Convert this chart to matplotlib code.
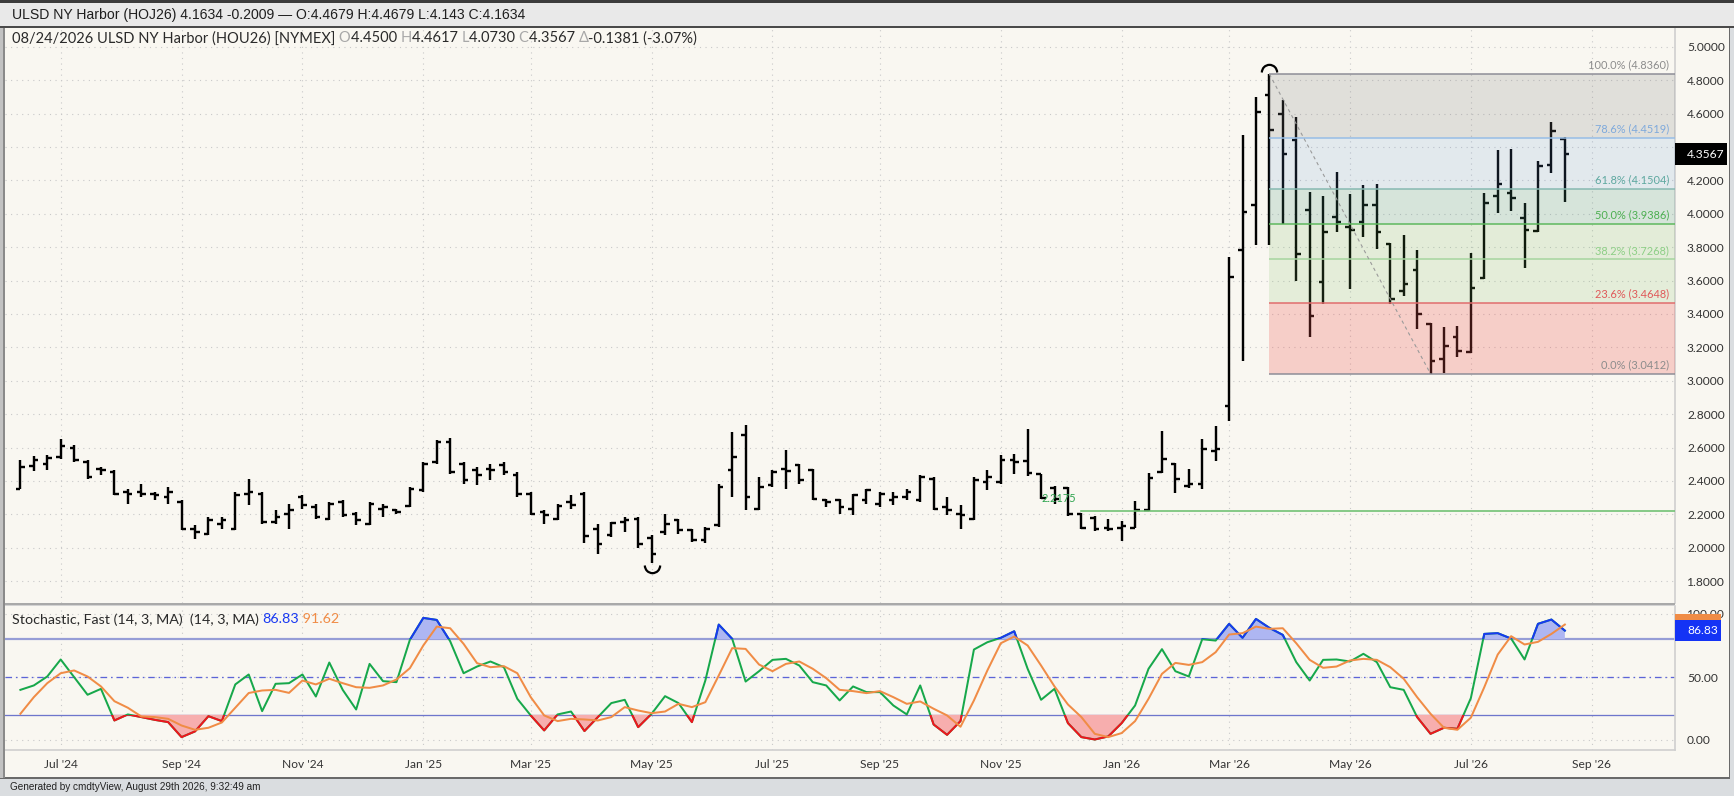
import numpy as np
import pandas as pd
import matplotlib
matplotlib.use('Agg')
import matplotlib.pyplot as plt
import matplotlib.transforms as mtransforms
from matplotlib.path import Path
from matplotlib.patches import Rectangle

# ---------------- data ----------------
week_start = '2024-06-10'   # first weekly bar (Mondays)

bar_open = [2.354, 2.488, 2.504, 2.544, 2.600, 2.514, 2.474, 2.454, 2.334, 2.334,
            2.320, 2.304, 2.274, 2.114, 2.084, 2.144, 2.114, 2.324, 2.324, 2.154,
            2.204, 2.304, 2.244, 2.174, 2.274, 2.204, 2.144, 2.234, 2.224, 2.248,
            2.344, 2.514, 2.634, 2.504, 2.464, 2.474, 2.494, 2.434, 2.324, 2.214,
            2.174, 2.274, 2.320, 2.110, 2.074, 2.154, 2.174, 2.060, 2.094, 2.164,
            2.104, 2.044, 2.134, 2.464, 2.674, 2.234, 2.374, 2.470, 2.494, 2.464,
            2.284, 2.284, 2.234, 2.284, 2.264, 2.284, 2.304, 2.284, 2.414, 2.244,
            2.204, 2.174, 2.394, 2.394, 2.524, 2.520, 2.440, 2.360, 2.360, 2.200,
            2.180, 2.120, 2.120, 2.120, 2.224, 2.456, 2.500, 2.370, 2.380, 2.580,
            2.850, 3.780, 4.050, 4.710, 4.600, 4.440, 4.020, 3.590, 3.980, 3.920,
            3.950, 4.050, 3.820, 3.540, 3.660, 3.340, 3.130, 3.260, 3.174, 3.613,
            4.106, 4.122, 3.976, 3.898, 4.291, 4.4500]
bar_high = [2.524, 2.548, 2.554, 2.650, 2.614, 2.524, 2.484, 2.464, 2.354, 2.384,
            2.334, 2.364, 2.284, 2.134, 2.184, 2.184, 2.334, 2.414, 2.334, 2.224,
            2.264, 2.314, 2.264, 2.274, 2.284, 2.214, 2.274, 2.264, 2.234, 2.364,
            2.514, 2.644, 2.654, 2.514, 2.484, 2.504, 2.514, 2.454, 2.334, 2.224,
            2.264, 2.314, 2.334, 2.144, 2.154, 2.184, 2.184, 2.074, 2.204, 2.174,
            2.114, 2.124, 2.384, 2.694, 2.734, 2.424, 2.464, 2.584, 2.504, 2.474,
            2.294, 2.294, 2.324, 2.354, 2.334, 2.334, 2.354, 2.434, 2.424, 2.304,
            2.254, 2.424, 2.464, 2.554, 2.564, 2.710, 2.444, 2.370, 2.364, 2.210,
            2.190, 2.170, 2.160, 2.280, 2.450, 2.700, 2.510, 2.470, 2.650, 2.730,
            3.740, 4.470, 4.700, 4.836, 4.680, 4.580, 4.130, 4.106, 4.250, 4.120,
            4.170, 4.180, 3.824, 3.870, 3.784, 3.344, 3.320, 3.330, 3.766, 4.122,
            4.381, 4.387, 4.062, 4.315, 4.551, 4.4617]
bar_low = [2.350, 2.460, 2.468, 2.534, 2.514, 2.414, 2.434, 2.314, 2.264, 2.304,
           2.284, 2.264, 2.104, 2.054, 2.074, 2.114, 2.104, 2.254, 2.144, 2.144,
           2.114, 2.234, 2.174, 2.164, 2.184, 2.134, 2.134, 2.184, 2.204, 2.244,
           2.334, 2.504, 2.444, 2.384, 2.374, 2.404, 2.434, 2.304, 2.194, 2.144,
           2.164, 2.234, 2.030, 1.960, 2.064, 2.094, 2.000, 1.910, 2.074, 2.084,
           2.034, 2.028, 2.124, 2.304, 2.224, 2.224, 2.364, 2.354, 2.384, 2.284,
           2.244, 2.204, 2.194, 2.264, 2.244, 2.254, 2.284, 2.274, 2.224, 2.194,
           2.114, 2.164, 2.344, 2.384, 2.444, 2.430, 2.290, 2.260, 2.190, 2.110,
           2.100, 2.100, 2.040, 2.116, 2.220, 2.450, 2.330, 2.360, 2.350, 2.520,
           2.760, 3.120, 3.810, 3.810, 3.940, 3.600, 3.260, 3.460, 3.890, 3.550,
           3.860, 3.790, 3.460, 3.510, 3.310, 3.0412, 3.044, 3.140, 3.168, 3.607,
           4.002, 4.016, 3.673, 3.892, 4.242, 4.0730]
bar_close = [2.484, 2.528, 2.540, 2.608, 2.524, 2.424, 2.464, 2.324, 2.324, 2.324,
             2.314, 2.334, 2.114, 2.094, 2.168, 2.168, 2.314, 2.334, 2.154, 2.184,
             2.224, 2.254, 2.184, 2.264, 2.194, 2.164, 2.264, 2.244, 2.214, 2.354,
             2.504, 2.634, 2.454, 2.404, 2.434, 2.464, 2.454, 2.324, 2.204, 2.194,
             2.248, 2.254, 2.070, 2.020, 2.148, 2.164, 2.020, 1.960, 2.144, 2.104,
             2.044, 2.114, 2.364, 2.544, 2.304, 2.364, 2.454, 2.460, 2.404, 2.294,
             2.274, 2.244, 2.314, 2.344, 2.324, 2.304, 2.334, 2.424, 2.234, 2.224,
             2.194, 2.404, 2.424, 2.524, 2.514, 2.450, 2.300, 2.290, 2.200, 2.120,
             2.110, 2.110, 2.130, 2.224, 2.420, 2.530, 2.410, 2.380, 2.590, 2.590,
             3.620, 4.010, 4.610, 4.500, 4.360, 3.760, 3.390, 3.890, 3.950, 3.900,
             4.050, 3.890, 3.490, 3.580, 3.400, 3.120, 3.210, 3.180, 3.553, 4.062,
             4.178, 4.092, 3.902, 4.285, 4.497, 4.3567]

stoch_k = [39.8, 43.3, 50.4, 63.9, 49.9, 35.9, 40.6, 15.5, 20.3, 18.2,
           16.0, 14.2, 2.3, 6.8, 18.9, 15.0, 44.1, 52.0, 22.9, 44.6,
           45.1, 52.0, 34.5, 61.5, 39.8, 24.2, 60.4, 46.7, 45.9, 79.5,
           96.9, 95.3, 78.4, 53.0, 58.3, 62.3, 57.8, 32.7, 19.5, 7.6,
           20.3, 22.6, 7.1, 18.2, 29.3, 31.9, 10.2, 20.8, 34.8, 29.3,
           14.2, 47.2, 91.6, 80.3, 46.4, 54.6, 63.6, 64.4, 59.1, 45.9,
           43.3, 31.4, 42.5, 38.0, 38.0, 27.4, 20.3, 43.3, 12.3, 4.1,
           15.0, 71.8, 77.6, 81.1, 86.3, 56.5, 31.9, 40.6, 13.4, 2.3,
           0.4, 2.8, 13.4, 27.4, 56.5, 72.1, 54.6, 50.4, 80.0, 78.9,
           92.2, 81.1, 96.1, 89.0, 83.4, 61.8, 47.2, 63.6, 63.9, 62.3,
           68.4, 61.8, 41.9, 39.8, 18.2, 4.9, 9.7, 8.9, 33.2, 84.2,
           84.8, 80.5, 63.9, 92.2, 95.6, 86.83]
stoch_d = [20.8, 34.0, 45.1, 53.0, 55.2, 50.4, 42.5, 30.8, 25.6, 18.7,
           18.2, 16.8, 11.5, 8.1, 9.7, 13.9, 25.6, 37.3, 39.3, 39.8,
           37.4, 47.2, 44.1, 48.6, 45.1, 41.9, 41.4, 43.3, 48.0, 57.0,
           75.0, 90.0, 88.7, 76.3, 61.0, 57.8, 58.6, 53.0, 34.0, 19.5,
           15.0, 16.8, 16.3, 15.5, 18.2, 26.1, 23.4, 21.3, 22.6, 28.7,
           26.1, 30.0, 51.2, 72.9, 72.3, 59.9, 54.6, 60.4, 62.3, 56.5,
           49.1, 39.8, 38.8, 37.2, 38.8, 34.0, 28.7, 30.6, 24.8, 19.5,
           10.5, 31.4, 55.2, 76.8, 82.1, 75.0, 59.1, 42.5, 28.2, 18.2,
           4.9, 2.3, 5.5, 15.0, 32.7, 52.5, 61.2, 59.6, 61.8, 69.7,
           83.7, 84.8, 90.0, 88.2, 88.7, 76.8, 63.6, 57.3, 58.3, 63.1,
           64.4, 63.6, 57.8, 48.6, 34.0, 20.8, 9.7, 8.1, 17.7, 41.9,
           67.8, 82.4, 75.8, 77.9, 84.2, 91.62]

fib_high = 4.8360
fib_low = 3.0412
fib_ratios = [1.0, 0.786, 0.618, 0.5, 0.382, 0.236, 0.0]
support_level = 2.2175
price_ticks = [1.8, 2.0, 2.2, 2.4, 2.6, 2.8, 3.0, 3.2, 3.4, 3.6, 3.8, 4.0, 4.2, 4.4, 4.6, 4.8, 5.0]
stoch_ticks = [0, 50, 100]
stoch_upper, stoch_mid, stoch_lower = 80, 50, 20
tick_months = [1, 3, 5, 7, 9, 11]

header_text = "ULSD NY Harbor (HOJ26) 4.1634 -0.2009 \u2014 O:4.4679 H:4.4679 L:4.143 C:4.1634"
info_runs = [("08/24/2026 ULSD NY Harbor (HOU26) [NYMEX] ", 'dark'), ("O", 'gray'), ("4.4500 ", 'dark'),
             ("H", 'gray'), ("4.4617 ", 'dark'), ("L", 'gray'), ("4.0730 ", 'dark'),
             ("C", 'gray'), ("4.3567 ", 'dark'), ("\u0394", 'gray'), ("-0.1381 (-3.07%)", 'dark')]
stoch_title = "Stochastic, Fast (14, 3, MA)  (14, 3, MA) "
footer_text = "Generated by cmdtyView, August 29th 2026, 9:32:49 am"

# ---------------- style / layout ----------------
W, H, DPI = 1734, 796, 100
BG = '#f9f7f1'
PT = 72.0 / DPI  # points per pixel
plt.rcParams['font.family'] = ['Lato', 'DejaVu Sans']

X0_PX, STEP_PX = 20.4, 13.43       # bar 0 position and bar spacing (pixels)
PLOT_L, PLOT_R = 5, 1675
HDR_B = 28.0
MAIN_T, MAIN_B = HDR_B, 603
ST_T, ST_B = 606, 750

fig = plt.figure(figsize=(W / DPI, H / DPI), dpi=DPI)
fig.patch.set_facecolor(BG)
R = fig.canvas.get_renderer()


def frect(x0, y0, x1, y1, color, z=1):
    fig.add_artist(Rectangle((x0 / W, 1 - y1 / H), (x1 - x0) / W, (y1 - y0) / H,
                             transform=fig.transFigure, fc=color, ec='none', zorder=z))


def ax_rect(x0, y0, x1, y1):
    return [x0 / W, 1 - y1 / H, (x1 - x0) / W, (y1 - y0) / H]


n = len(bar_close)
xs = np.arange(n)
xl = (PLOT_L - X0_PX) / STEP_PX
xr = (PLOT_R - X0_PX) / STEP_PX

dates = pd.date_range(week_start, periods=n + 8, freq='W-MON')
tick_idx, tick_lab = [], []
for i in range(1, len(dates)):
    if dates[i].month in tick_months and dates[i - 1].month != dates[i].month:
        tick_idx.append(i)
        tick_lab.append(dates[i].strftime("%b '%y"))

# price scale: 5.0 at y=46.7px, 167 px per unit
p_top = 5.0 + (46.7 - MAIN_T) / 167.0
p_bot = 5.0 - (MAIN_B - 46.7) / 167.0
s_top = (740 - ST_T) / 1.26
s_bot = (740 - ST_B) / 1.26

ax = fig.add_axes(ax_rect(PLOT_L, MAIN_T, PLOT_R, MAIN_B))
axs = fig.add_axes(ax_rect(PLOT_L, ST_T, PLOT_R, ST_B))

lab_size = 12 * PT
for a in (ax, axs):
    a.set_facecolor(BG)
    for s in a.spines.values():
        s.set_visible(False)
    a.spines['right'].set_visible(True)
    a.spines['right'].set_color('#cfcfcf')
    a.spines['right'].set_linewidth(1.2)
    a.set_xlim(xl, xr)
    a.set_xticks(tick_idx)
    a.yaxis.tick_right()
    a.tick_params(axis='both', length=0, labelsize=lab_size, labelcolor='#333333')
    a.tick_params(axis='y', pad=12 * PT)
    a.grid(True, color='#c9c9c9', lw=0.8, ls=(0, (1, 4)))
    a.set_axisbelow(True)

axs.spines['bottom'].set_visible(True)
axs.spines['bottom'].set_color('#cfcfcf')
axs.spines['bottom'].set_linewidth(1.2)

ax.set_ylim(p_bot, p_top)
ax.set_yticks(price_ticks)
ax.set_yticklabels([f'{v:.4f}' for v in price_ticks])
ax.tick_params(axis='x', labelbottom=False)

axs.set_ylim(s_bot, s_top)
axs.set_yticks(stoch_ticks)
axs.set_yticklabels([f'{v:.2f}' for v in stoch_ticks])
axs.set_xticklabels(tick_lab)
axs.tick_params(axis='x', pad=9 * PT)

# ---------------- OHLC bars ----------------
bw = 2.4 * PT
tl = 4.6 / STEP_PX
ax.vlines(xs, bar_low, bar_high, color='black', lw=bw, zorder=3)
ax.hlines(bar_open, xs - tl, xs, color='black', lw=bw, zorder=3)
ax.hlines(bar_close, xs, xs + tl, color='black', lw=bw, zorder=3)

# high / low markers
i_hi = int(np.argmax(bar_high))
i_lo = int(np.argmin(bar_low))
arc_up = Path.arc(0, 180)
arc_dn = Path.arc(180, 360)
ax.plot([i_hi], [bar_high[i_hi]], marker=arc_up, ms=11, mfc='none', mec='black', mew=1.6,
        transform=mtransforms.offset_copy(ax.transData, fig=fig, x=0, y=2.5, units='dots'), zorder=4)
ax.plot([i_lo], [bar_low[i_lo]], marker=arc_dn, ms=11, mfc='none', mec='black', mew=1.6,
        transform=mtransforms.offset_copy(ax.transData, fig=fig, x=0, y=-2.5, units='dots'), zorder=4)

# ---------------- Fibonacci retracement ----------------
fib_prices = [fib_low + r * (fib_high - fib_low) for r in fib_ratios]
zone_cols = [(0.5, 0.5, 0.5, 0.2), (0.39, 0.6, 0.85, 0.15), (0.3, 0.6, 0.5, 0.2),
             (0.4, 0.7, 0.3, 0.15), (0.5, 0.75, 0.4, 0.17), (0.94, 0.33, 0.31, 0.25)]
line_cols = ['#8c8c96', '#96bde6', '#85b8b0', '#5cb85c', '#a5d59e', '#e06b6b', '#8c8c96']
text_cols = ['#8c8c8c', '#7ea9dc', '#5ea8a0', '#4caf50', '#8dcf86', '#e05858', '#8c8c8c']
i_lo2 = i_hi + int(np.argmin(bar_low[i_hi:]))
for k in range(len(fib_prices) - 1):
    ax.add_patch(Rectangle((i_hi, fib_prices[k + 1]), xr - i_hi, fib_prices[k] - fib_prices[k + 1],
                           fc=zone_cols[k], ec='none', zorder=4))
lab_tr = mtransforms.offset_copy(ax.transData, fig=fig, x=-6, y=9, units='dots')
for r, p, lc, tc in zip(fib_ratios, fib_prices, line_cols, text_cols):
    ax.plot([i_hi, xr], [p, p], color=lc, lw=1.5 * PT, zorder=5, solid_capstyle='butt')
    ax.text(xr, p, f'{r * 100:.1f}% ({p:.4f})', color=tc, fontsize=11 * PT, ha='right', va='center',
            transform=lab_tr, zorder=6)
ax.plot([i_hi, i_lo2], [fib_high, fib_low], color='#9a9a9a', lw=0.8, ls=(0, (3, 3)), zorder=5)

# support line
i_sup = 79
ax.plot([i_sup, xr], [support_level, support_level], color='#6cc070', lw=1.6 * PT, zorder=5)
ax.text(i_sup, support_level, f'{support_level:.4f}', color='#2ea44f', fontsize=11 * PT, ha='right',
        va='center', transform=mtransforms.offset_copy(ax.transData, fig=fig, x=-5, y=13, units='dots'),
        zorder=6)

# ---------------- Stochastic ----------------
k = np.array(stoch_k)
d = np.array(stoch_d)
axs.axhline(stoch_upper, color='#969dd6', lw=2.2 * PT, zorder=2)
axs.axhline(stoch_lower, color='#6e76cc', lw=1.3 * PT, zorder=2)
axs.axhline(stoch_mid, color='#5c64d8', lw=1.3 * PT, ls=(0, (5, 3, 1.2, 3)), zorder=2)
axs.fill_between(xs, k, stoch_upper, where=k >= stoch_upper, interpolate=True, color='#aeb6f2', lw=0, zorder=2.5)
axs.fill_between(xs, k, stoch_lower, where=k <= stoch_lower, interpolate=True, color='#f7aeae', lw=0, zorder=2.5)
lw_s = 2.0 * PT
axs.plot(xs, k, color='#17a84b', lw=lw_s, zorder=4)
lb, = axs.plot(xs, k, color='#1838f2', lw=lw_s, zorder=4.5)
lb.set_clip_path(Rectangle((xl - 10, stoch_upper), 300, 500, transform=axs.transData))
lr, = axs.plot(xs, k, color='#f0141e', lw=lw_s, zorder=4.5)
lr.set_clip_path(Rectangle((xl - 10, -500), 300, 500 + stoch_lower, transform=axs.transData))
axs.plot(xs, d, color='#f08c46', lw=lw_s, zorder=5)

# ---------------- frame / chrome ----------------
frect(0, 0, W, HDR_B, '#e9e9e9', z=0.5)
frect(0, 0, W, 2.5, '#3c3c3c', z=0.6)
frect(0, HDR_B - 2, W, HDR_B + 0.2, '#4a4a4a', z=0.6)
frect(0, 778, W, H, '#dadde0', z=0.5)
frect(0, 776.8, 1730, 778.6, '#6a6a6a', z=0.6)
frect(1728.5, HDR_B, 1730.2, 778.6, '#6a6a6a', z=0.6)
frect(1730.2, HDR_B, W, 778, '#dadde0', z=0.5)
frect(0, HDR_B, 3, 778, '#c2c2c2', z=0.6)
frect(3, HDR_B, 4.6, 778, '#8a8a8a', z=0.6)
frect(4.6, MAIN_B, PLOT_R, MAIN_B + 1.5, '#a9a9a9', z=0.6)
frect(4.6, MAIN_B + 1.5, PLOT_R, ST_T, '#d2d2d2', z=0.6)

# last price box
fig.canvas.draw()
yd = ax.transData.transform((0, bar_close[-1]))[1]
frect(PLOT_R, H - yd - 11, 1727, H - yd + 11, '#000000', z=2)
fig.text(1687 / W, yd / H, f'{bar_close[-1]:.4f}', color='white', fontsize=lab_size, ha='left',
         va='center', zorder=3)
# stochastic last value boxes
yd_d = axs.transData.transform((0, d[-1]))[1]
yd_k = axs.transData.transform((0, k[-1]))[1]
frect(PLOT_R, H - yd_d - 10.5, 1721, H - yd_d + 10.5, '#f08c46', z=2)
frect(PLOT_R, H - yd_k - 10.5, 1721, H - yd_k + 10.5, '#1433f5', z=2.1)
fig.text(1687 / W, yd_k / H, f'{k[-1]:.2f}', color='white', fontsize=lab_size, ha='left', va='center', zorder=3)


# ---------------- text helpers ----------------
def adv(s, size, family):
    t1 = fig.text(0, 0, '|' + s + '|', fontsize=size, family=family)
    t2 = fig.text(0, 0, '||', fontsize=size, family=family)
    w = t1.get_window_extent(R).width - t2.get_window_extent(R).width
    t1.remove()
    t2.remove()
    return w


def draw_runs(runs, x_px, y_px, size, family):
    x = x_px
    for s, c in runs:
        fig.text(x / W, 1 - y_px / H, s, color=c, fontsize=size, family=family, ha='left', va='center',
                 zorder=4)
        x += adv(s, size, family)


def fit(s, target, family):
    return 10 * target / adv(s, 10, family)


hdr_fam = ['Liberation Sans', 'DejaVu Sans']
lato = ['Lato', 'DejaVu Sans']
draw_runs([(header_text, '#1e1e1e')], 11.7, 15.5, fit(header_text, 513, hdr_fam), hdr_fam)

col_map = {'dark': '#2a2a2a', 'gray': '#a8a8a8'}
pre_c = ''.join(s for s, _ in info_runs[:7])
sz2 = fit(pre_c, 505, lato)
draw_runs([(s, col_map[c]) for s, c in info_runs], 11.7, 38.5, sz2, lato)

st_runs = [(stoch_title, '#2a2a2a'), (f'{k[-1]:.2f}', '#1838f2'), (f' {d[-1]:.2f}', '#f08c46')]
sz3 = fit(''.join(s for s, _ in st_runs), 325, lato)
draw_runs(st_runs, 11.7, 619.3, sz3, lato)

draw_runs([(footer_text, '#222222')], 9.5, 787, fit(footer_text, 250, hdr_fam), hdr_fam)

fig.savefig('out.png', dpi=DPI, facecolor=fig.get_facecolor())
